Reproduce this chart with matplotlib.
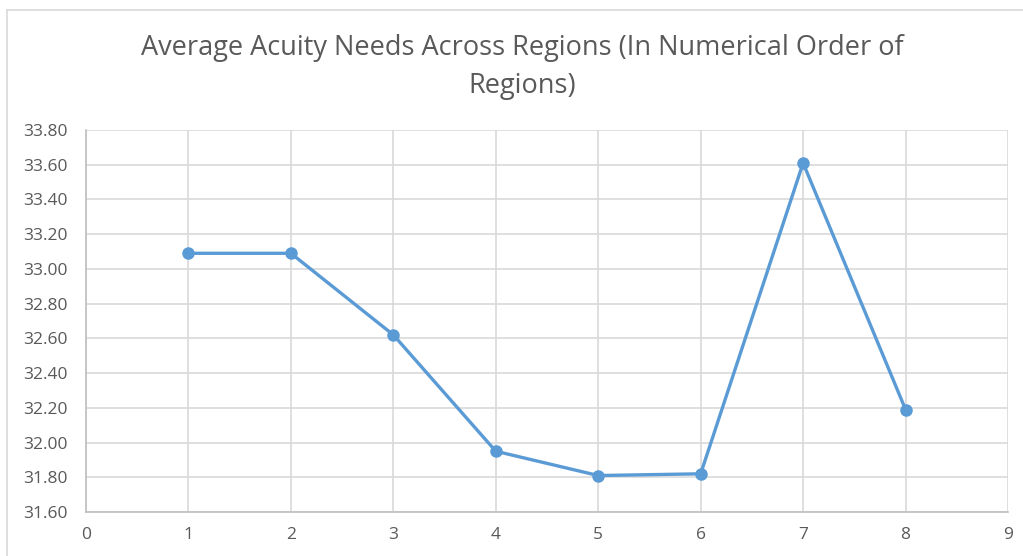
import matplotlib
matplotlib.use("Agg")
import matplotlib.pyplot as plt
from matplotlib.lines import Line2D

regions = [1, 2, 3, 4, 5, 6, 7, 8]
acuity = [33.09, 33.09, 32.62, 31.95, 31.81, 31.82, 33.61, 32.19]
x_ticks = list(range(0, 10))
y_ticks = [31.60, 31.80, 32.00, 32.20, 32.40, 32.60, 32.80, 33.00, 33.20, 33.40, 33.60, 33.80]
title = "Average Acuity Needs Across Regions (In Numerical Order of\nRegions)"

W, H = 1023, 556
fig = plt.figure(figsize=(W / 100, H / 100), dpi=100)
fig.patch.set_facecolor("white")
ax = fig.add_axes([86 / W, 1 - 512 / H, (1008 - 86) / W, (512 - 130) / H])

ax.plot(regions, acuity, color="#5B9BD5", lw=2.4, marker="o", ms=8,
        markerfacecolor="#5B9BD5", markeredgecolor="#5B9BD5", zorder=3)

ax.set_xlim(0, 9)
ax.set_ylim(31.6, 33.8)
ax.set_xticks(x_ticks)
ax.set_yticks(y_ticks)
ax.set_yticklabels([f"{v:.2f}" for v in y_ticks])
ax.grid(True, color="#D9D9D9", lw=1.2)
ax.set_axisbelow(True)
for s in ["top", "right"]:
    ax.spines[s].set_visible(False)
for s in ["left", "bottom"]:
    ax.spines[s].set_color("#BFBFBF")
    ax.spines[s].set_linewidth(1.2)
ax.tick_params(length=0, labelsize=12.5, labelcolor="#595959")
ax.tick_params(axis="y", pad=13)
ax.tick_params(axis="x", pad=11)
for lbl in ax.get_xticklabels() + ax.get_yticklabels():
    lbl.set_fontfamily("Open Sans")

fig.text(522 / W, 1 - 67 / H, title, ha="center", va="center", fontsize=19.5,
         color="#595959", family="Open Sans", linespacing=1.5)

# outer chart frame (left and top edges visible)
fig.add_artist(Line2D([7 / W, 7 / W], [0, 1 - 9.5 / H], transform=fig.transFigure,
                      color="#D9D9D9", lw=1.2))
fig.add_artist(Line2D([7 / W, 1], [1 - 9.5 / H, 1 - 9.5 / H], transform=fig.transFigure,
                      color="#D9D9D9", lw=1.2))

fig.savefig("out.png", dpi=100)
